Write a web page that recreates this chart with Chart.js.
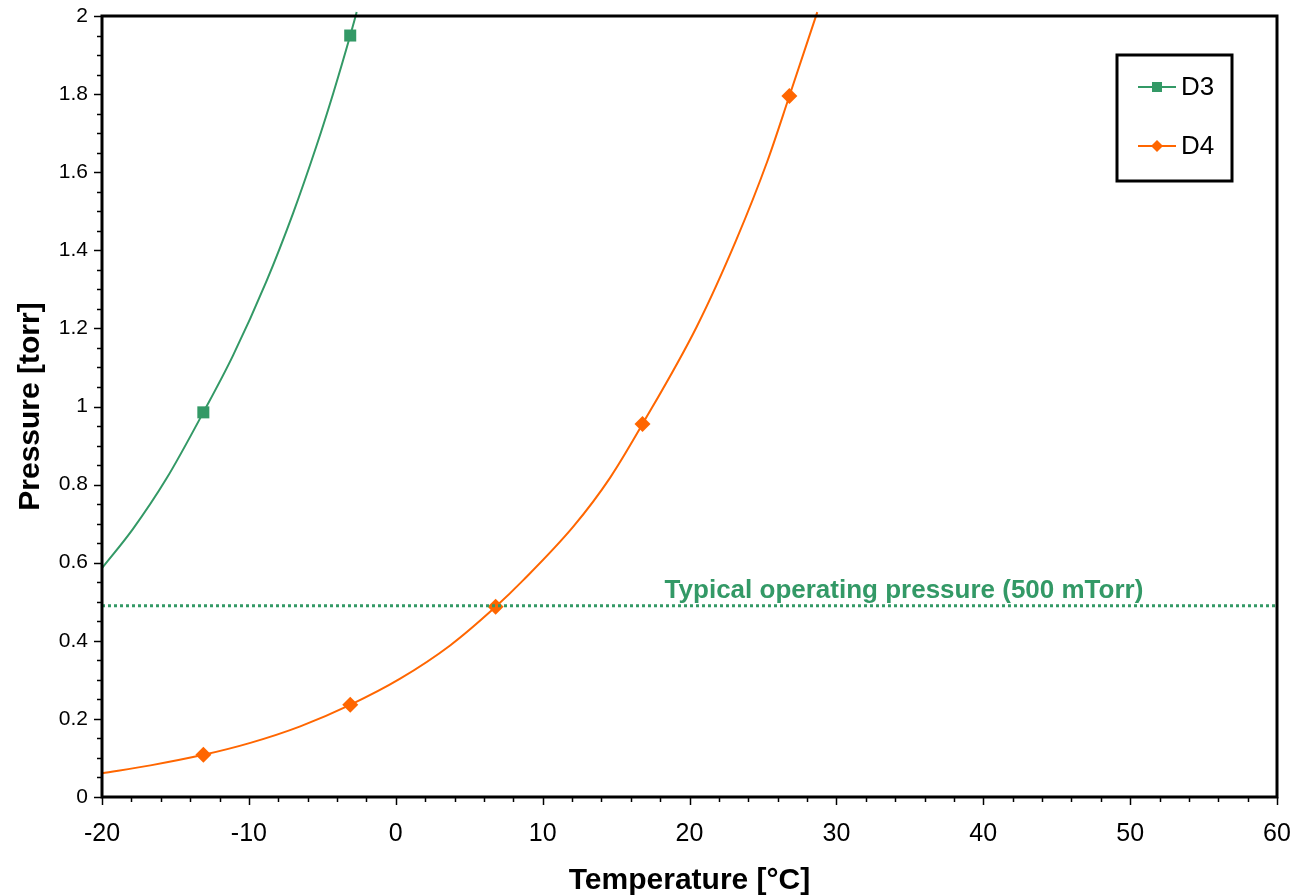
<!DOCTYPE html>
<html>
<head>
<meta charset="utf-8">
<script src="https://cdn.jsdelivr.net/npm/chart.js@4"></script>
<style>
  html, body { margin: 0; padding: 0; background: #fff; }
  #wrap { width: 1302px; height: 896px; }
</style>
</head>
<body>
<div id="wrap"><canvas id="chart" width="1302" height="896"></canvas></div>
<script>
// measured points (markers)
const d3Temp = [-13.1, -3.1];
const d3Pres = [0.985, 1.95];
const d4Temp = [-13.1, -3.1, 6.8, 16.8, 26.8];
const d4Pres = [0.108, 0.236, 0.487, 0.955, 1.795];

// fitted curves
const d3CurveTemp = [-20, -17.9, -15.6, -13.1, -11.1, -8.8, -7.0, -5.4, -4.25, -3.1, -2.66];
const d3CurvePres = [0.586, 0.686, 0.816, 0.985, 1.129, 1.321, 1.494, 1.667, 1.803, 1.95, 2.01];
const d4CurveTemp = [-20, -16.7, -13.1, -9.9, -6.5, -3.1, 0.3, 3.7, 6.8, 8.7, 12.1, 14.6, 16.8, 20.5, 23.2, 25.3, 26.8, 28.7];
const d4CurvePres = [0.0607, 0.081, 0.108, 0.1387, 0.181, 0.236, 0.303, 0.388, 0.487, 0.556, 0.693, 0.818, 0.955, 1.205, 1.428, 1.628, 1.795, 2.01];

// operating pressure line
const opTemp = [-20, 60];
const opPres = [0.49, 0.49];
const opLabel = 'Typical operating pressure (500 mTorr)';

const seriesNames = ['D3', 'D4'];
const GREEN = '#339966';
const ORANGE = '#FF6600';
const FONT = "'Liberation Sans', Arial, sans-serif";

const pts = (xs, ys) => xs.map((x, i) => ({ x: x, y: ys[i] }));

// frame, minor ticks, legend and label
const extras = {
    id: 'extras',
    afterDraw(chart) {
        const ctx = chart.ctx;
        const a = chart.chartArea;
        const xs = chart.scales.x, ys = chart.scales.y;
        ctx.save();

        // tick marks
        ctx.strokeStyle = '#000';
        ctx.lineWidth = 1.5;
        for (let v = -20; v <= 60; v += 2) {
            const px = Math.round(xs.getPixelForValue(v)) + 0.5;
            const len = (v % 10 === 0) ? 8 : 5;
            ctx.beginPath();
            ctx.moveTo(px, a.bottom);
            ctx.lineTo(px, a.bottom + len);
            ctx.stroke();
        }
        for (let i = 0; i <= 40; i++) {
            const v = i * 0.05;
            const py = Math.round(ys.getPixelForValue(v)) + 0.5;
            const len = (i % 4 === 0) ? 8 : 5;
            ctx.beginPath();
            ctx.moveTo(a.left, py);
            ctx.lineTo(a.left - len, py);
            ctx.stroke();
        }

        // plot frame
        ctx.lineWidth = 3;
        ctx.strokeStyle = '#000';
        ctx.strokeRect(a.left, a.top, a.right - a.left, a.bottom - a.top);

        // label above the dotted line
        ctx.fillStyle = GREEN;
        ctx.font = "bold 26px " + FONT;
        ctx.textAlign = 'right';
        ctx.textBaseline = 'alphabetic';
        ctx.fillText(opLabel, xs.getPixelForValue(50.9), ys.getPixelForValue(0.51));

        // legend box
        ctx.fillStyle = '#fff';
        ctx.fillRect(1117, 55, 115, 126);
        ctx.lineWidth = 3;
        ctx.strokeStyle = '#000';
        ctx.strokeRect(1117, 55, 115, 126);
        const rows = [
            { name: seriesNames[0], color: GREEN, y: 87, shape: 'rect' },
            { name: seriesNames[1], color: ORANGE, y: 146, shape: 'diamond' }
        ];
        rows.forEach(r => {
            ctx.strokeStyle = r.color;
            ctx.lineWidth = 2;
            ctx.beginPath();
            ctx.moveTo(1138, r.y);
            ctx.lineTo(1176, r.y);
            ctx.stroke();
            ctx.fillStyle = r.color;
            if (r.shape === 'rect') {
                ctx.fillRect(1152, r.y - 5, 10, 10);
            } else {
                ctx.beginPath();
                ctx.moveTo(1157, r.y - 6);
                ctx.lineTo(1163, r.y);
                ctx.lineTo(1157, r.y + 6);
                ctx.lineTo(1151, r.y);
                ctx.closePath();
                ctx.fill();
            }
            ctx.fillStyle = '#000';
            ctx.font = "26px " + FONT;
            ctx.textAlign = 'left';
            ctx.textBaseline = 'middle';
            ctx.fillText(r.name, 1181, r.y + 1);
        });
        ctx.restore();
    }
};

const config = {
    type: 'scatter',
    data: {
        datasets: [
            {
                label: 'op',
                data: pts(opTemp, opPres),
                showLine: true,
                borderColor: GREEN,
                borderWidth: 3,
                borderDash: [3, 3],
                pointRadius: 0
            },
            {
                label: 'D3 curve',
                data: pts(d3CurveTemp, d3CurvePres),
                showLine: true,
                borderColor: GREEN,
                borderWidth: 2,
                pointRadius: 0,
                cubicInterpolationMode: 'monotone',
                clip: false
            },
            {
                label: 'D4 curve',
                data: pts(d4CurveTemp, d4CurvePres),
                showLine: true,
                borderColor: ORANGE,
                borderWidth: 2,
                pointRadius: 0,
                cubicInterpolationMode: 'monotone',
                clip: false
            },
            {
                label: seriesNames[0],
                data: pts(d3Temp, d3Pres),
                showLine: false,
                pointStyle: 'rect',
                pointRadius: 8.5,
                backgroundColor: GREEN,
                borderColor: GREEN,
                borderWidth: 0
            },
            {
                label: seriesNames[1],
                data: pts(d4Temp, d4Pres),
                showLine: false,
                pointStyle: 'rectRot',
                pointRadius: 8,
                backgroundColor: ORANGE,
                borderColor: ORANGE,
                borderWidth: 0
            }
        ]
    },
    options: {
        responsive: false,
        animation: false,
        events: [],
        layout: { padding: { top: 16, right: 25, left: 0, bottom: 0 } },
        plugins: {
            legend: { display: false },
            tooltip: { enabled: false }
        },
        scales: {
            x: {
                type: 'linear',
                min: -20,
                max: 60,
                grid: { display: false },
                border: { display: false },
                ticks: {
                    stepSize: 10,
                    color: '#000',
                    padding: 14,
                    font: { family: FONT, size: 25 }
                },
                title: {
                    display: true,
                    text: 'Temperature [°C]',
                    color: '#000',
                    font: { family: FONT, size: 30, weight: 'bold', lineHeight: 1.0 },
                    padding: { top: 0, bottom: 0 }
                },
                afterFit(scale) {
                    scale.height = 99;
                    scale.paddingLeft = 0;
                    scale.paddingRight = 0;
                }
            },
            y: {
                type: 'linear',
                min: 0,
                max: 2,
                grid: { display: false },
                border: { display: false },
                ticks: {
                    stepSize: 0.2,
                    color: '#000',
                    padding: 6,
                    font: { family: FONT, size: 21 },
                    callback: v => String(Math.round(v * 10) / 10)
                },
                title: {
                    display: true,
                    text: 'Pressure [torr]',
                    color: '#000',
                    font: { family: FONT, size: 30, weight: 'bold', lineHeight: 1.2 },
                    padding: { top: 13, bottom: 0 }
                },
                afterFit(scale) {
                    scale.width = 102;
                    scale.paddingTop = 0;
                    scale.paddingBottom = 0;
                }
            }
        }
    },
    plugins: [extras]
};

new Chart(document.getElementById('chart').getContext('2d'), config);
</script>
</body>
</html>
